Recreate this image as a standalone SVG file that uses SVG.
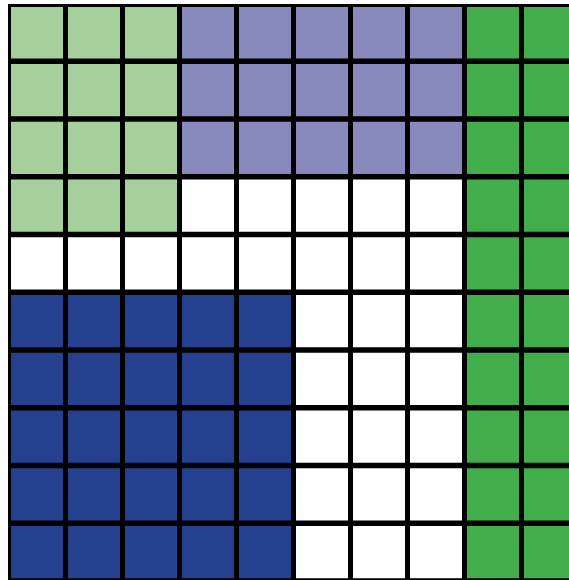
<svg xmlns="http://www.w3.org/2000/svg" width="569" height="580" viewBox="0 0 569 580">
<style>
.lg{fill:#a5cf9b}.lv{fill:#8889bd}.gr{fill:#41ad4b}.bl{fill:#24408e}
.v{stroke:#000;stroke-width:5}.h{stroke:#000;stroke-width:5.6}
</style>
<rect x="0" y="0" width="569" height="580" fill="#fff"/>
<g id="regions">
<rect class="lg" x="8.5" y="5.5" width="171" height="229"/>
<rect class="lv" x="179.5" y="5.5" width="285" height="171.25"/>
<rect class="gr" x="464.5" y="5.5" width="104.5" height="574.5"/>
<rect class="bl" x="8.5" y="292.25" width="285" height="287.75"/>
</g>
<g id="grid">
<rect x="8" y="4" width="3" height="576" fill="#000"/>
<rect x="8" y="4" width="561" height="3" fill="#000"/>
<line class="v" x1="65.5" y1="4" x2="65.5" y2="580"/>
<line class="v" x1="122.5" y1="4" x2="122.5" y2="580"/>
<line class="v" x1="179.5" y1="4" x2="179.5" y2="580"/>
<line class="v" x1="236.5" y1="4" x2="236.5" y2="580"/>
<line class="v" x1="293.5" y1="4" x2="293.5" y2="580"/>
<line class="v" x1="350.5" y1="4" x2="350.5" y2="580"/>
<line class="v" x1="407.5" y1="4" x2="407.5" y2="580"/>
<line class="v" x1="464.5" y1="4" x2="464.5" y2="580"/>
<line class="v" x1="521.5" y1="4" x2="521.5" y2="580"/>
<line class="h" x1="8" y1="61.25" x2="569" y2="61.25"/>
<line class="h" x1="8" y1="119" x2="569" y2="119"/>
<line class="h" x1="8" y1="176.75" x2="569" y2="176.75"/>
<line class="h" x1="8" y1="234.5" x2="569" y2="234.5"/>
<line class="h" x1="8" y1="292.25" x2="569" y2="292.25"/>
<line class="h" x1="8" y1="350" x2="569" y2="350"/>
<line class="h" x1="8" y1="407.75" x2="569" y2="407.75"/>
<line class="h" x1="8" y1="465.5" x2="569" y2="465.5"/>
<line class="h" x1="8" y1="523.25" x2="569" y2="523.25"/>
<line class="h" x1="8" y1="581" x2="569" y2="581"/>
</g>
</svg>
